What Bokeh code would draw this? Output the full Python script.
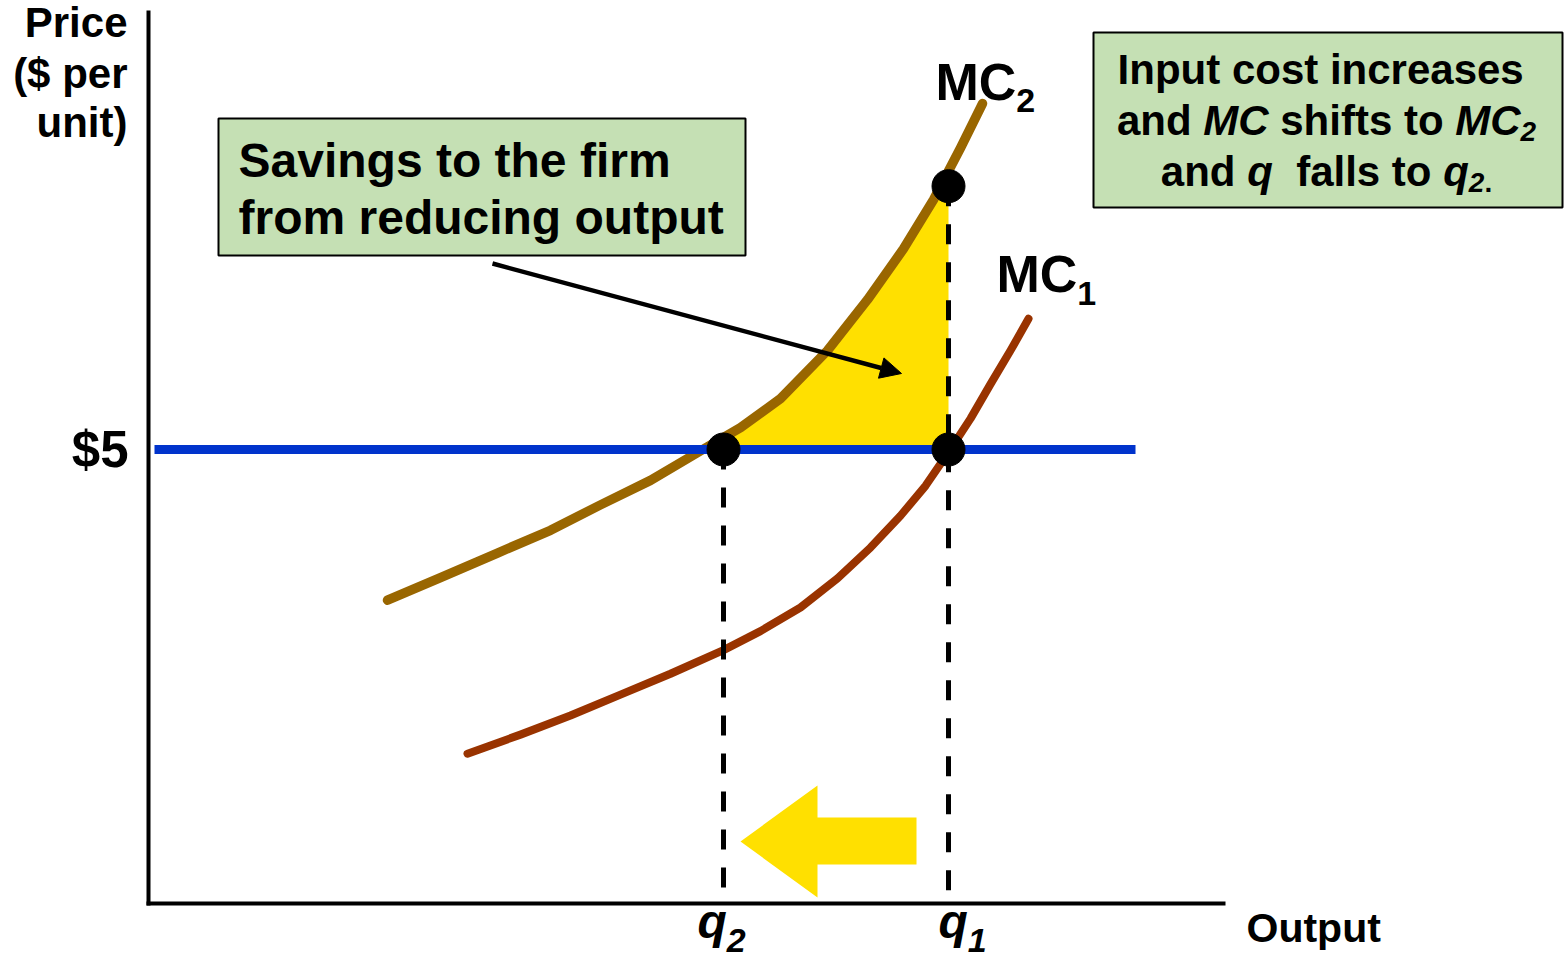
import numpy as np
from bokeh.plotting import figure
from bokeh.models import Range1d, LinearAxis, FixedTicker, NumeralTickFormatter, Arrow, NormalHead
from bokeh.core.properties import value
from bokeh.embed import file_html
from bokeh.resources import INLINE

# ---------------- data (output units, $ per unit) ----------------
mc1_output = [3.19, 3.72, 4.22, 4.72, 5.22, 5.75, 6.12, 6.52, 6.89, 7.22, 7.52, 7.77, 8.00, 8.22, 8.42, 8.62, 8.80]
mc1_cost = [1.65, 1.86, 2.07, 2.30, 2.53, 2.79, 3.00, 3.26, 3.58, 3.92, 4.27, 4.60, 4.97, 5.34, 5.72, 6.09, 6.44]
mc2_output = [2.39, 2.92, 3.49, 4.02, 4.52, 5.02, 5.59, 5.92, 6.32, 6.79, 7.19, 7.55, 7.85, 8.12, 8.34]
mc2_cost = [3.34, 3.59, 3.86, 4.11, 4.39, 4.66, 5.03, 5.24, 5.56, 6.09, 6.65, 7.21, 7.75, 8.32, 8.81]
price = 5.0
q2 = 5.75
q1 = 8.0
mc2_at_q1 = 7.90
price_line_extent = [0.06, 9.87]
y_axis_bounds = (-0.02, 9.835)
x_axis_bounds = (-0.02, 10.77)

y_title = ["Price", "($ per", "unit)"]
box1_lines = ["Savings to the firm", "from reducing output"]

# ---------------- figure ----------------
W_PX, H_PX = 1566, 959
X_LO, X_HI = -1.48, 14.18
Y_LO, Y_HI = -0.6167, 9.9449
PX_X = W_PX / (X_HI - X_LO)
PX_Y = H_PX / (Y_HI - Y_LO)

p = figure(width=W_PX, height=H_PX, x_range=Range1d(X_LO, X_HI), y_range=Range1d(Y_LO, Y_HI),
           output_backend="svg", toolbar_location=None, min_border=0,
           x_axis_type=None, y_axis_type=None)
p.outline_line_color = None
p.background_fill_color = "white"
p.border_fill_color = "white"

FONT = value("Liberation Sans")
GREEN = "#C5E0B4"
YELLOW = "#FFE000"

# axes drawn by bokeh
yax = LinearAxis(fixed_location=0, bounds=y_axis_bounds, ticker=FixedTicker(ticks=[price]),
                 formatter=NumeralTickFormatter(format="$0"),
                 major_tick_in=0, major_tick_out=0, minor_tick_in=0, minor_tick_out=0,
                 axis_line_width=4, axis_line_color="black",
                 major_label_text_font="Liberation Sans", major_label_text_font_style="bold",
                 major_label_text_font_size="51px", major_label_text_color="black",
                 major_label_standoff=20)
xax = LinearAxis(fixed_location=0, bounds=x_axis_bounds, ticker=FixedTicker(ticks=[]),
                 major_tick_in=0, major_tick_out=0, minor_tick_in=0, minor_tick_out=0,
                 axis_line_width=4, axis_line_color="black",
                 major_label_text_font_size="0px")
p.add_layout(yax, "left")
p.add_layout(xax, "below")

# boxes
p.quad(left=[0.70], right=[5.97], top=[8.645], bottom=[7.137], fill_color=GREEN, line_color="black", line_width=2)
p.quad(left=[9.45], right=[14.14], top=[9.593], bottom=[7.665], fill_color=GREEN, line_color="black", line_width=2)

# savings area between MC2 and price, q2..q1
q_int = float(np.interp(price, mc2_cost, mc2_output))
mid = [(q, c) for q, c in zip(mc2_output, mc2_cost) if q_int < q < q1]
fill_x = [q_int] + [m[0] for m in mid] + [q1, q1]
fill_y = [price] + [m[1] for m in mid] + [float(np.interp(q1, mc2_output, mc2_cost)), price]
p.patch(fill_x, fill_y, fill_color=YELLOW, line_color=None)

# yellow block arrow
p.patch([5.92, 6.69, 6.69, 7.68, 7.68, 6.69, 6.69],
        [0.683, 1.300, 0.947, 0.947, 0.430, 0.430, 0.066], fill_color=YELLOW, line_color=None)

# curves
p.line(mc2_output, mc2_cost, line_color="#996600", line_width=9.5, line_cap="round", line_join="round")
p.line(mc1_output, mc1_cost, line_color="#993300", line_width=8, line_cap="round", line_join="round")

# price line
p.segment(x0=[price_line_extent[0]], y0=[price], x1=[price_line_extent[1]], y1=[price],
          line_color="#0033CC", line_width=9)

# dashed drop lines
p.segment(x0=[q2, q1], y0=[price, mc2_at_q1], x1=[q2, q1], y1=[0, 0],
          line_color="black", line_width=5, line_dash="20 18")

# dots
p.scatter(x=[q2, q1, q1], y=[price, price, mc2_at_q1], size=33, color="black")

# pointer arrow
p.add_layout(Arrow(end=NormalHead(size=21, fill_color="black", line_color="black", line_width=1),
                   x_start=3.44, y_start=7.048, x_end=7.53, y_end=5.837,
                   line_width=4.5, line_color="black"))

# ---------------- texts ----------------
ADV = {' ': 278, 'a': 556, 'c': 556, 'd': 611, 'e': 556, 'f': 333, 'g': 611, 'h': 611, 'i': 278,
       'l': 278, 'm': 889, 'n': 611, 'o': 611, 'p': 611, 'q': 611, 'r': 389, 's': 556, 't': 333,
       'u': 611, 'I': 278, 'M': 833, 'C': 722, 'O': 778, 'P': 667, 'S': 667, 'v': 556, '1': 556,
       '2': 556, '.': 278, '$': 556, '(': 333, ')': 333}
BASE_FIX = 0.36  # renderer places alphabetic baseline ~0.36 em low

groups = {}


def put(x, y, txt, style, size, align="left"):
    g = groups.setdefault((style, size, align), {"x": [], "y": [], "t": []})
    g["x"].append(x)
    g["y"].append(y + BASE_FIX * size / PX_Y)
    g["t"].append(txt)


def adv(s, size):
    return sum(ADV.get(c, 556) for c in s) * size / 1000.0 / PX_X


def rich(runs, x, y, size, sub_size, sub_drop, center=False):
    total = sum(adv(t, sub_size if sb else size) for t, it, sb in runs)
    cx = x - total / 2 if center else x
    for t, it, sb in runs:
        sz = sub_size if sb else size
        lead = len(t) - len(t.lstrip(" "))
        core = t.strip(" ")
        if core:
            put(cx + adv(" " * lead, sz), y - (sub_drop / PX_Y if sb else 0.0), core,
                "bold italic" if it else "bold", sz)
        cx += adv(t, sz)


# y-axis title
for txt, yb in zip(y_title, [9.537, 8.976, 8.436]):
    put(-0.21, yb, txt, "bold", 42, "right")

# box 1
for txt, yb in zip(box1_lines, [7.995, 7.367]):
    put(0.90, yb, txt, "bold", 48)

# box 2
rich([("Input cost increases ", False, False)], 11.78, 9.020, 42, 28, 6, center=True)
rich([("and ", False, False), ("MC", True, False), (" shifts to ", False, False),
      ("MC", True, False), ("2", True, True)], 11.78, 8.458, 42, 28, 6, center=True)
rich([("and ", False, False), ("q", True, False), ("  falls to ", False, False),
      ("q", True, False), ("2", True, True), (".", False, True)], 11.78, 7.897, 42, 28, 6, center=True)

# curve labels
rich([("MC", False, False), ("2", False, True)], 7.87, 8.844, 52, 34, 12)
rich([("MC", False, False), ("1", False, True)], 8.48, 6.729, 52, 34, 13)

# quantity labels
rich([("q", True, False), ("2", True, True)], 5.49, -0.385, 48, 34, 14)
rich([("q", True, False), ("1", True, True)], 7.90, -0.385, 48, 34, 14)

put(10.98, -0.430, "Output", "bold", 41)

for (style, size, align), g in groups.items():
    p.text(x=g["x"], y=g["y"], text=g["t"], text_font=FONT, text_font_style=style,
           text_font_size=f"{size}px", text_align=align, text_baseline="alphabetic",
           text_color="black")

open("out.html", "w").write(file_html(p, INLINE, title="MC shift"))
